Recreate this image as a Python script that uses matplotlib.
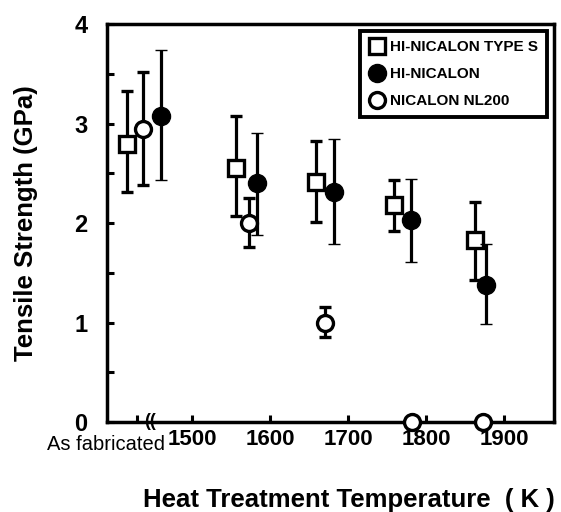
import matplotlib
matplotlib.use('Agg')
import matplotlib.pyplot as plt
from matplotlib.ticker import MultipleLocator

plt.rcParams['font.family'] = ['Liberation Sans', 'DejaVu Sans']

# Heat treatment temperature (K); "As fabricated" points sit left of the axis break
type_s_x = [1417, 1556, 1659, 1759, 1863]
type_s_y = [2.79, 2.55, 2.41, 2.18, 1.83]
type_s_lo = [2.31, 2.07, 2.01, 1.92, 1.43]
type_s_hi = [3.33, 3.08, 2.82, 2.43, 2.21]

hi_x = [1460, 1583, 1682, 1781, 1877]
hi_y = [3.08, 2.40, 2.31, 2.03, 1.38]
hi_lo = [2.43, 1.88, 1.79, 1.61, 0.99]
hi_hi = [3.74, 2.90, 2.84, 2.44, 1.79]

nl_x = [1437, 1573, 1670, 1782, 1873]
nl_y = [2.95, 2.00, 1.00, 0.0, 0.0]
nl_lo = [2.38, 1.76, 0.85, 0.0, 0.0]
nl_hi = [3.52, 2.25, 1.16, 0.0, 0.0]

x_ticks = [1430, 1500, 1600, 1700, 1800, 1900]
x_tick_labels = ['', '1500', '1600', '1700', '1800', '1900']
y_ticks = [0, 1, 2, 3, 4]


def _err(y, lo, hi):
    return [[v - l for v, l in zip(y, lo)], [h - v for v, h in zip(y, hi)]]


fig = plt.figure(figsize=(5.61, 5.12), dpi=100)
ax = fig.add_axes([0.1907, 0.1758, 0.797, 0.7772])

err_kw = dict(ecolor='black', elinewidth=2.3, capsize=4.5, capthick=2.6, linestyle='none')

ax.errorbar(nl_x, nl_y, yerr=_err(nl_y, nl_lo, nl_hi), fmt='o', ms=11.5,
            mfc='white', mec='black', mew=2.4, zorder=3, clip_on=False,
            label='NICALON NL200', **err_kw)
ax.errorbar(type_s_x, type_s_y, yerr=_err(type_s_y, type_s_lo, type_s_hi), fmt='s', ms=11.5,
            mfc='white', mec='black', mew=2.4, zorder=4,
            label='HI-NICALON TYPE S', **err_kw)
ax.errorbar(hi_x, hi_y, yerr=_err(hi_y, hi_lo, hi_hi), fmt='o', ms=13,
            mfc='black', mec='black', mew=1, zorder=5,
            label='HI-NICALON', **err_kw)

ax.set_xlim(1391, 1964)
ax.set_ylim(0, 4)
ax.set_xticks(x_ticks)
ax.set_xticklabels(x_tick_labels, fontsize=16, fontweight='bold')
ax.set_yticks(y_ticks)
ax.set_yticklabels([str(v) for v in y_ticks], fontsize=17, fontweight='bold')
ax.yaxis.set_minor_locator(MultipleLocator(0.5))
ax.tick_params(which='both', direction='in', length=5, width=2.2)
ax.tick_params(axis='x', pad=5)
ax.tick_params(axis='y', pad=14)
for s in ax.spines.values():
    s.set_linewidth(2.5)

# axis break mark and "As fabricated" label
ax.text(1446, 0, '((', ha='center', va='center', fontsize=13, fontweight='bold', clip_on=False)
ax.text(1465, -0.135, 'As fabricated', ha='right', va='top', fontsize=14.5)

ax.set_ylabel('Tensile Strength (GPa)', fontsize=18.5, fontweight='bold')
ax.yaxis.set_label_coords(-0.155, 0.5)
ax.set_xlabel('Heat Treatment Temperature  ( K )', fontsize=18.5, fontweight='bold')
ax.xaxis.set_label_coords(0.54, -0.165)

h, l = ax.get_legend_handles_labels()
order = [1, 2, 0]
leg = ax.legend([h[i][0] for i in order], [l[i] for i in order], loc='upper right',
                prop={'weight': 'bold', 'size': 11}, fancybox=False,
                edgecolor='black', framealpha=1, handletextpad=0.3, borderpad=0.6,
                labelspacing=0.85, borderaxespad=0.45, handlelength=1.1)
leg.get_frame().set_linewidth(2.8)

fig.savefig('out.png', dpi=100)
